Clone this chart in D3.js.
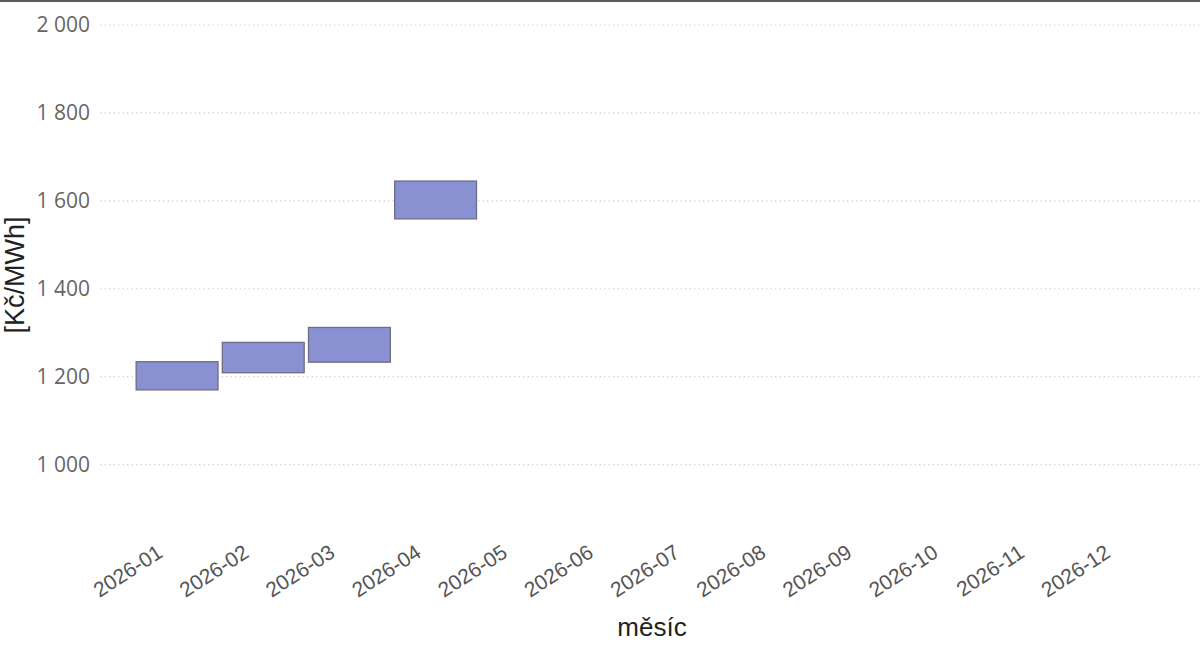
<!DOCTYPE html>
<html>
<head>
<meta charset="utf-8">
<script src="https://cdn.jsdelivr.net/npm/d3@7"></script>
<style>
  html, body { margin: 0; padding: 0; background: #ffffff; }
  svg { display: block; }
</style>
</head>
<body>
<svg id="chart" width="1200" height="645"></svg>
<script>
// ---- data ----
const months = ["2026-01","2026-02","2026-03","2026-04","2026-05","2026-06",
                "2026-07","2026-08","2026-09","2026-10","2026-11","2026-12"];
const lowValues  = [1170, 1209, 1233, 1559];
const highValues = [1234, 1278, 1312, 1645];
const yTicks = [1000, 1200, 1400, 1600, 1800, 2000];
const yTitle = "[Kč/MWh]";
const xTitle = "měsíc";

// ---- layout ----
const svg = d3.select("#chart");
const W = 1200, H = 645;
const plotLeft = 100, plotRight = 1200;

const x = d3.scaleBand().domain(months).range([134, 1168]).paddingInner(0.05).paddingOuter(0.025);
const y = d3.scaleLinear().domain([2000, 1000]).range([25, 464.6]);

// top border
svg.append("line").attr("x1", 0).attr("x2", W).attr("y1", 1).attr("y2", 1)
  .attr("stroke", "#5a5a5a").attr("stroke-width", 2);

// grid
const grid = svg.append("g");
grid.selectAll("line").data(yTicks).join("line")
  .attr("x1", plotLeft).attr("x2", plotRight)
  .attr("y1", d => y(d)).attr("y2", d => y(d))
  .attr("stroke", "#d4d4d4").attr("stroke-width", 1.2)
  .attr("stroke-dasharray", "1.5,3");

// y axis
const yAxis = d3.axisLeft(y).tickValues(yTicks).tickSize(0).tickPadding(0)
  .tickFormat(d => d3.format(",")(d).replace(/,/g, " "));
const yg = svg.append("g").attr("transform", "translate(90,0)").call(yAxis);
yg.select(".domain").remove();
yg.selectAll("text").attr("font-family", "'Open Sans', sans-serif").attr("font-size", 21)
  .attr("fill", "#666");

// x axis
const xAxis = d3.axisBottom(x).tickSize(0).tickPadding(0);
const xg = svg.append("g").attr("transform", "translate(0,556)").call(xAxis);
xg.select(".domain").remove();
xg.selectAll(".tick text")
  .attr("font-family", "'Liberation Sans', Arial, sans-serif").attr("font-size", 21)
  .attr("fill", "#555")
  .attr("text-anchor", "end")
  .attr("dy", 0).attr("y", 0)
  .attr("transform", "translate(-13,0) rotate(-33)");

// bars
const bars = months.slice(0, lowValues.length).map((m, i) => ({m, lo: lowValues[i], hi: highValues[i]}));
svg.append("g").selectAll("rect").data(bars).join("rect")
  .attr("x", d => x(d.m)).attr("width", x.bandwidth())
  .attr("y", d => y(d.hi)).attr("height", d => y(d.lo) - y(d.hi))
  .attr("fill", "#8a91d2").attr("stroke", "#6d6d84").attr("stroke-width", 1.3);

// titles
svg.append("text").attr("transform", "translate(24,275) rotate(-90)")
  .attr("text-anchor", "middle")
  .attr("font-family", "'Liberation Sans', Arial, sans-serif").attr("font-size", 27)
  .attr("fill", "#222").text(yTitle);
svg.append("text").attr("x", 652).attr("y", 636)
  .attr("text-anchor", "middle")
  .attr("font-family", "'Liberation Sans', Arial, sans-serif").attr("font-size", 26)
  .attr("fill", "#222").text(xTitle);
</script>
</body>
</html>
